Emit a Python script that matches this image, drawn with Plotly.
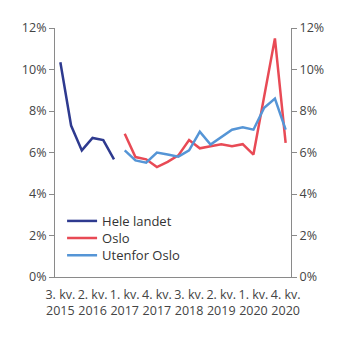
import plotly.graph_objects as go

quarters = ["3. kv. 2015", "4. kv. 2015",
            "1. kv. 2016", "2. kv. 2016", "3. kv. 2016", "4. kv. 2016",
            "1. kv. 2017", "2. kv. 2017", "3. kv. 2017", "4. kv. 2017",
            "1. kv. 2018", "2. kv. 2018", "3. kv. 2018", "4. kv. 2018",
            "1. kv. 2019", "2. kv. 2019", "3. kv. 2019", "4. kv. 2019",
            "1. kv. 2020", "2. kv. 2020", "3. kv. 2020", "4. kv. 2020"]

hele_landet = [10.35, 7.3, 6.1, 6.7, 6.6, 5.67] + [None] * 16
oslo = [None] * 6 + [6.9, 5.78, 5.67, 5.3, 5.55, 5.86, 6.6, 6.2, 6.3, 6.4,
                     6.3, 6.4, 5.9, 8.7, 11.5, 6.46]
utenfor_oslo = [None] * 6 + [6.1, 5.62, 5.51, 6.0, 5.9, 5.8, 6.1, 7.0, 6.38,
                             6.72, 7.1, 7.21, 7.1, 8.16, 8.6, 7.1]

tick_labels = ["3. kv.<br>2015", "2. kv.<br>2016", "1. kv.<br>2017", "4. kv.<br>2017",
               "3. kv.<br>2018", "2. kv.<br>2019", "1. kv.<br>2020", "4. kv.<br>2020"]
tick_vals = [quarters[i] for i in range(0, 22, 3)]
y_ticks = [0, 2, 4, 6, 8, 10, 12]
y_text = [f"{v}%" for v in y_ticks]

font = dict(family="Open Sans", size=12.5, color="#444")
legend_font = dict(family="Open Sans", size=13, color="#333")
axis_color = "#8a8a8a"

fig = go.Figure()
fig.add_trace(go.Scatter(x=quarters, y=hele_landet, name="Hele landet", mode="lines",
                         line=dict(color="#2E3A8F", width=2.5), legend="legend"))
fig.add_trace(go.Scatter(x=quarters, y=oslo, name="Oslo", mode="lines",
                         line=dict(color="#E84A55", width=2.5), legend="legend2"))
fig.add_trace(go.Scatter(x=quarters, y=utenfor_oslo, name="Utenfor Oslo", mode="lines",
                         line=dict(color="#5595D6", width=2.5), legend="legend3"))
# invisible trace for right axis
fig.add_trace(go.Scatter(x=quarters, y=[None] * len(quarters), yaxis="y2",
                         showlegend=False, hoverinfo="skip"))

yaxis_common = dict(range=[0, 12], tickvals=y_ticks, ticktext=y_text,
                    showgrid=False, zeroline=False, showline=True,
                    linecolor=axis_color, linewidth=1, ticks="outside",
                    ticklen=5, tickcolor=axis_color, tickfont=font)

leg_common = dict(x=0.03, xanchor="left", yanchor="middle",
                  bgcolor="rgba(0,0,0,0)", font=legend_font)

fig.update_layout(
    width=345, height=341,
    margin=dict(l=55, r=54, t=28, b=64),
    paper_bgcolor="white", plot_bgcolor="white",
    font=font,
    showlegend=True,
    legend=dict(y=0.225, **leg_common),
    legend2=dict(y=0.156, **leg_common),
    legend3=dict(y=0.087, **leg_common),
    xaxis=dict(type="category", categoryorder="array", categoryarray=quarters,
               range=[-0.5, 21.5], tickvals=tick_vals, ticktext=tick_labels,
               showgrid=False, zeroline=False, showline=True, linecolor=axis_color,
               linewidth=1, ticks="", tickfont=font, tickangle=0,
               ticklabelstandoff=6),
    yaxis=dict(side="left", **yaxis_common),
    yaxis2=dict(side="right", overlaying="y", **yaxis_common),
)

fig.write_html("out.html")
